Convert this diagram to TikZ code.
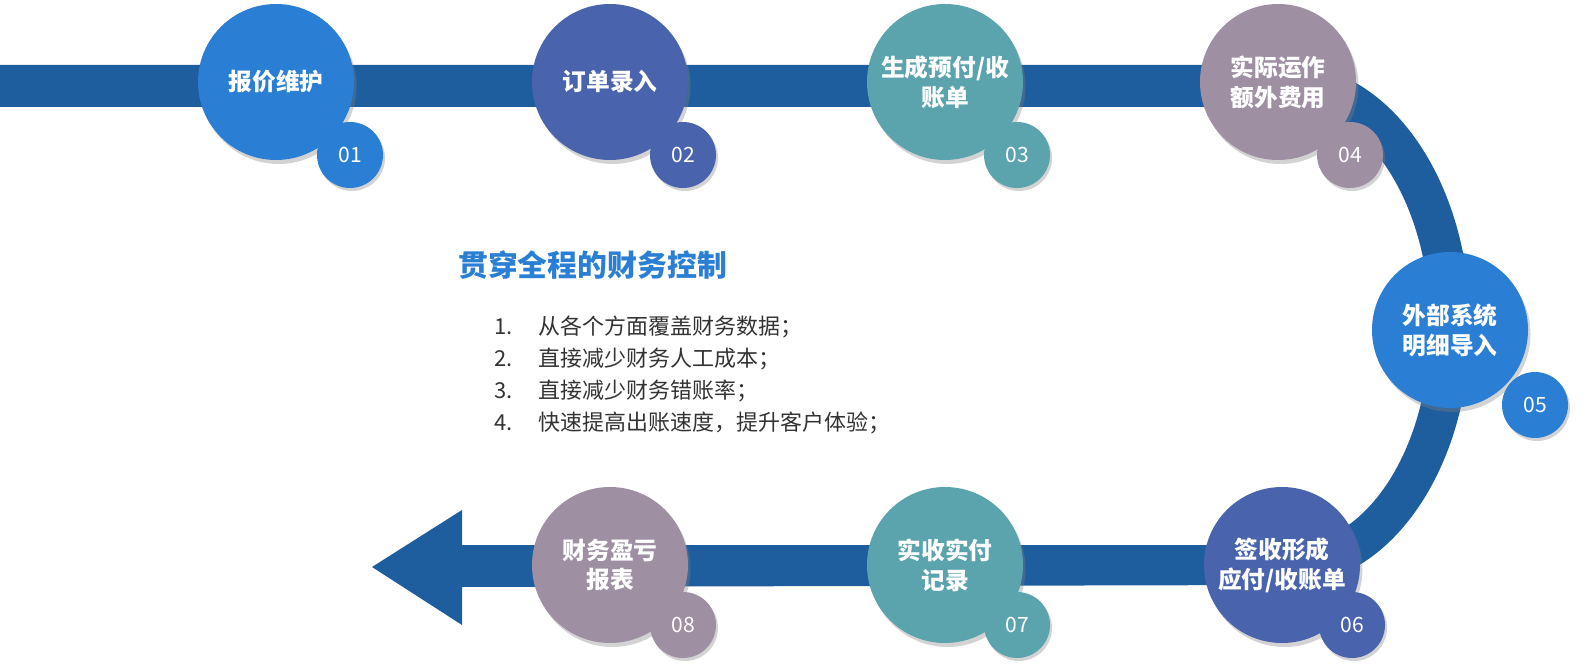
\documentclass[tikz,border=0pt]{standalone}
\usepackage{fontspec}
\setmainfont{Noto Sans CJK SC}
\usetikzlibrary{shadows}
\definecolor{band}{HTML}{1F5E9E}
\definecolor{cA}{HTML}{2A7FD4}
\definecolor{cB}{HTML}{4A63AD}
\definecolor{cC}{HTML}{5BA4AE}
\definecolor{cD}{HTML}{9E8FA3}
\definecolor{ttl}{HTML}{2A7FD4}
\definecolor{txt}{HTML}{333333}
\begin{document}
\begin{tikzpicture}[x=0.02cm,y=-0.02cm,
  big/.style={circle,minimum size=156*0.02cm,inner sep=0pt,text=white,font=\fontsize{13.5}{17}\selectfont\bfseries,align=center,drop shadow={opacity=0.35,shadow xshift=0.05cm,shadow yshift=-0.08cm}},
  small/.style={circle,minimum size=66*0.02cm,inner sep=0pt,text=white,font=\fontsize{12}{14}\selectfont,drop shadow={opacity=0.35,shadow xshift=0.04cm,shadow yshift=-0.06cm}},
  item/.style={anchor=west,text=txt,font=\fontsize{12.5}{15}\selectfont}]
\useasboundingbox (0,0) rectangle (1596,672);
% band
\fill[band] (0,65) -- (1290,65) arc[start angle=-90,end angle=90,x radius=180,y radius=260] -- (462,587) -- (462,625) -- (372,567) -- (462,510) -- (462,545) -- (1290,545) arc[start angle=90,end angle=-90,x radius=140,y radius=219] -- (0,107) -- cycle;
% big circles
\node[big,fill=cA] (n1) at (276,82) {报价维护};
\node[small,fill=cA] (s1) at (350,155) {01};
\node[big,fill=cB] (n2) at (610,82) {订单录入};
\node[small,fill=cB] (s2) at (683,155) {02};
\node[big,fill=cC] (n3) at (945,82) {生成预付/收\\账单};
\node[small,fill=cC] (s3) at (1017,155) {03};
\node[big,fill=cD] (n4) at (1278,82) {实际运作\\额外费用};
\node[small,fill=cD] (s4) at (1350,155) {04};
\node[big,fill=cA] (n5) at (1450,330) {外部系统\\明细导入};
\node[small,fill=cA] (s5) at (1535,405) {05};
\node[big,fill=cB] (n6) at (1282,565) {签收形成\\应付/收账单};
\node[small,fill=cB] (s6) at (1352,625) {06};
\node[big,fill=cC] (n7) at (945,565) {实收实付\\记录};
\node[small,fill=cC] (s7) at (1017,625) {07};
\node[big,fill=cD] (n8) at (610,565) {财务盈亏\\报表};
\node[small,fill=cD] (s8) at (683,625) {08};
% text
\node[anchor=west,text=ttl,font=\fontsize{17}{20}\selectfont\bfseries] (t) at (452,265) {贯穿全程的财务控制};
\node[item] (i1) at (488,327) {1.\hspace{1.2em}从各个方面覆盖财务数据；};
\node[item] (i2) at (488,359) {2.\hspace{1.2em}直接减少财务人工成本；};
\node[item] (i3) at (488,391) {3.\hspace{1.2em}直接减少财务错账率；};
\node[item] (i4) at (488,423) {4.\hspace{1.2em}快速提高出账速度，提升客户体验；};
\end{tikzpicture}
\end{document}
